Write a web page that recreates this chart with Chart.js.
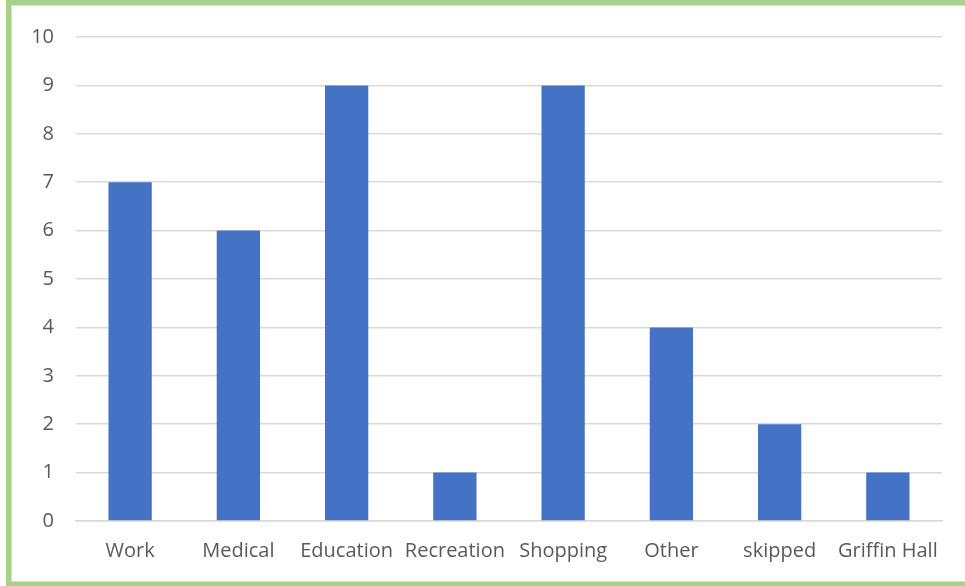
<!DOCTYPE html>
<html>
<head>
<meta charset="utf-8">
<script src="https://cdn.jsdelivr.net/npm/chart.js@4"></script>
<style>
  body { margin: 0; background: #fff; overflow: hidden; }
  #wrap { position: absolute; left: 0; top: 0; width: 965px; height: 586px; }
  #frame {
    position: absolute; left: 6px; top: 0; width: 1000px; height: 586px;
    box-sizing: border-box; border: 5px solid #a9d18e; border-bottom-width: 4px;
    box-shadow: inset 0 0 0 1px #d9d9d9; pointer-events: none;
  }
</style>
</head>
<body>
<div id="wrap"><canvas id="tripChart" width="965" height="586"></canvas></div>
<div id="frame"></div>
<script>
const categories = ['Work', 'Medical', 'Education', 'Recreation', 'Shopping', 'Other', 'skipped', 'Griffin Hall'];
const counts = [7, 6, 9, 1, 9, 4, 2, 1];
const yTicks = [0, 1, 2, 3, 4, 5, 6, 7, 8, 9, 10];

const textColor = '#595959';
const gridColor = '#d9d9d9';
const labelFont = { family: 'Open Sans', size: 20 };

const ctx = document.getElementById('tripChart').getContext('2d');
const tripChart = new Chart(ctx, {
  type: 'bar',
  data: {
    labels: categories,
    datasets: [{
      data: counts,
      backgroundColor: '#4472c4',
      barPercentage: 0.4,
      categoryPercentage: 1
    }]
  },
  options: {
    responsive: false,
    animation: false,
    layout: { padding: { left: 1, right: 23, top: 37, bottom: 0 } },
    plugins: { legend: { display: false }, tooltip: { enabled: false } },
    scales: {
      x: {
        grid: { display: false, drawTicks: false },
        border: { display: true, color: gridColor, width: 1.5 },
        ticks: { color: textColor, font: labelFont, padding: 18, maxRotation: 0, autoSkip: false },
        afterFit: scale => { scale.height = 65; }
      },
      y: {
        min: 0,
        max: 10,
        afterBuildTicks: scale => { scale.ticks = yTicks.map(v => ({ value: v })); },
        grid: { color: gridColor, lineWidth: 1.5, drawTicks: false },
        border: { display: false },
        ticks: { color: textColor, font: labelFont, padding: 22 },
        afterFit: scale => { scale.width = 75; }
      }
    }
  }
});
</script>
</body>
</html>
